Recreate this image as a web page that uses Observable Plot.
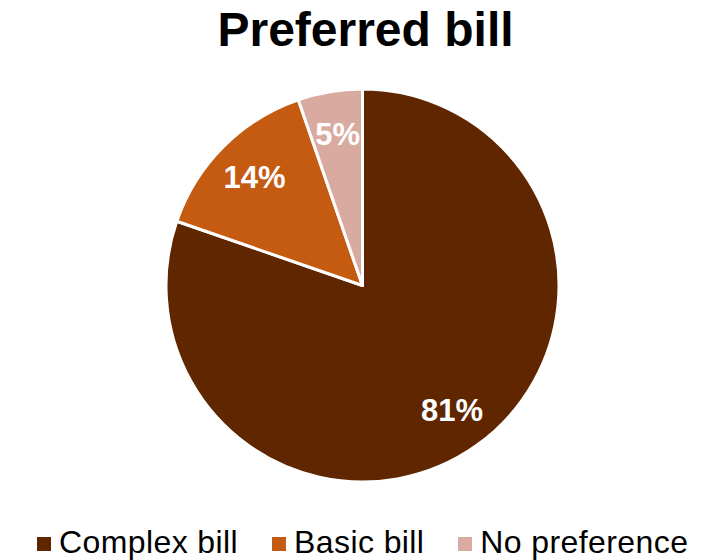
<!DOCTYPE html>
<html>
<head>
<meta charset="utf-8">
<script src="https://cdn.jsdelivr.net/npm/d3@7"></script>
<script src="https://cdn.jsdelivr.net/npm/@observablehq/plot@0.6"></script>
<style>
  html, body { margin: 0; padding: 0; background: #fff; }
  #wrap { position: relative; width: 709px; height: 560px; font-family: "Liberation Sans", Arial, sans-serif; }
  #title { position: absolute; left: 0; top: 6px; width: 731px; text-align: center; font-size: 48px; line-height: 48px; font-weight: bold; color: #000; }
  #chart { position: absolute; left: 0; top: 70px; }
  #legend { position: absolute; left: 37px; top: 526px; width: max-content; white-space: nowrap; display: flex; font-size: 32px; line-height: 32px; letter-spacing: 0.4px; color: #000; }
  .item { display: flex; align-items: center; margin-right: 34px; white-space: nowrap; flex: none; }
  .sw { width: 14px; height: 14px; margin-right: 8px; margin-top: 4px; flex: none; }
</style>
</head>
<body>
<div id="wrap">
  <div id="title">Preferred bill</div>
  <div id="chart"></div>
  <div id="legend"></div>
</div>
<script>
const categories = ["Complex bill", "Basic bill", "No preference"];
const values = [80.3, 14.4, 5.3];
const labels = ["81%", "14%", "5%"];
const colors = ["#5F2600", "#C55A11", "#D9AAA0"];

const data = categories.map((c, i) => ({category: c, value: values[i], label: labels[i], color: colors[i]}));
const arcs = d3.pie().sort(null).value(d => d.value)(data);
const labelR = 0.78;
const labelData = arcs.map(a => {
  const mid = (a.startAngle + a.endAngle) / 2;
  return {label: a.data.label, x: Math.sin(mid) * labelR, y: Math.cos(mid) * labelR};
});

function pieMark(index, scales) {
  const cx = scales.x(0), cy = scales.y(0);
  const r = scales.x(1) - scales.x(0);
  const arc = d3.arc().innerRadius(0).outerRadius(r);
  const g = d3.create("svg:g").attr("transform", `translate(${cx},${cy})`);
  g.selectAll("path").data(arcs).join("path")
    .attr("d", arc)
    .attr("fill", d => d.data.color)
    .attr("stroke", "#fff")
    .attr("stroke-width", 3)
    .attr("stroke-linejoin", "round");
  return g.node();
}

const plot = Plot.plot({
  width: 709,
  height: 430,
  marginLeft: 166,
  marginRight: 150,
  marginTop: 19,
  marginBottom: 18,
  x: {domain: [-1, 1], axis: null},
  y: {domain: [-1, 1], axis: null},
  style: {background: "transparent", overflow: "visible"},
  marks: [
    pieMark,
    Plot.text(labelData, {
      x: "x", y: "y", text: "label",
      fill: "#fff", fontSize: 31, fontWeight: "bold",
      fontFamily: "Liberation Sans, Arial, sans-serif"
    })
  ]
});
document.getElementById("chart").appendChild(plot);

const legend = d3.select("#legend");
const items = legend.selectAll(".item").data(data).join("div").attr("class", "item");
items.append("div").attr("class", "sw").style("background", d => d.color);
items.append("span").text(d => d.category);
</script>
</body>
</html>
